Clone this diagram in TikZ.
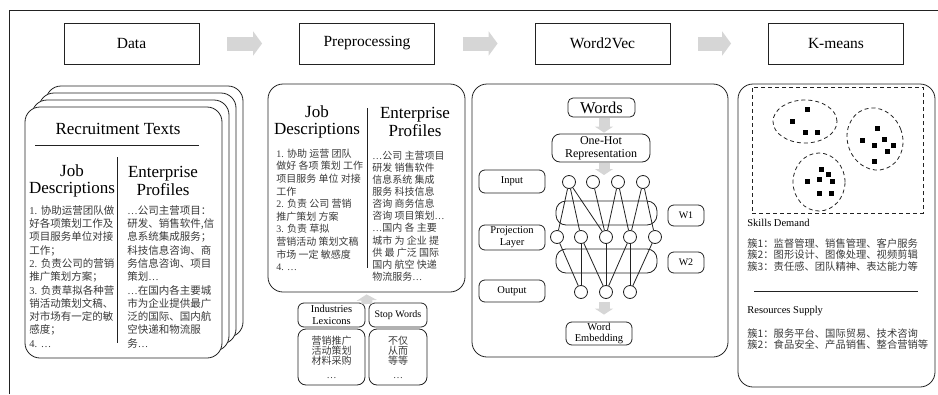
\documentclass[tikz,border=0pt]{standalone}
\usepackage{fontspec}
\setmainfont{Liberation Serif}
\newfontfamily\cjk{Noto Sans CJK SC}
\usetikzlibrary{arrows.meta,shapes.geometric}
\definecolor{agray}{HTML}{D6D6D6}
\definecolor{tgray}{HTML}{3A3A3A}
\definecolor{lgray}{HTML}{222222}
\newcommand\rl[1]{{\rmfamily #1}}
\begin{document}
\begin{tikzpicture}[x=1pt,y=-1pt,line width=0.8pt,
 hdr/.style={draw=lgray, minimum width=135pt, minimum height=41pt, inner sep=0pt, font=\fontsize{15.5}{18}\selectfont},
 harrow/.style={agray, line width=14pt, -{Triangle[width=24pt,length=9pt]}, shorten <=28pt, shorten >=37pt},
 varrow/.style={agray, line width=11pt, -{Triangle[width=18pt,length=6pt]}},
 page/.style={draw=lgray, fill=white, rounded corners=15pt, minimum width=197pt, minimum height=251pt, inner sep=0pt},
 panel/.style={draw=lgray, rounded corners=15pt, inner sep=0pt},
 ttl/.style={font=\fontsize{17}{17.5}\selectfont, align=center, inner sep=0pt},
 zh/.style={font=\cjk\fontsize{10.5}{13.3}\selectfont, text=tgray, align=left, anchor=north west, inner sep=0pt},
 rbox/.style={draw=lgray, rounded corners=6pt, inner sep=0pt, align=center},
 neuron/.style={circle, draw=lgray, fill=white, minimum size=13pt, inner sep=0pt},
 band/.style={draw=lgray, rounded corners=10pt, minimum width=101pt, minimum height=24pt, inner sep=0pt},
 dot/.style={fill=black, minimum size=5pt, inner sep=0pt},
 clus/.style={ellipse, draw=lgray, dash pattern=on 4pt off 3pt, inner sep=0pt},
 lab/.style={anchor=west, inner sep=0pt, font=\fontsize{10.5}{12}\selectfont},
]
\useasboundingbox (0,0) rectangle (938,394);
\draw[lgray] (9,394) -- (9,10) -- (938,10);

% headers
\node[hdr] (hdata) at (131.5,43.5) {Data};
\node[hdr] (hprep) at (367,43.5) {Preprocessing};
\node[hdr] (hw2v) at (602.5,43.5) {Word2Vec};
\node[hdr] (hkm) at (836,43.5) {K-means};
\draw[harrow] (hdata) -- (hprep);
\draw[harrow] (hprep) -- (hw2v);
\draw[harrow] (hw2v) -- (hkm);

% Data pages
\node[page] (pg3) at (144.5,211.5) {};
\node[page] (pg2) at (137.5,218.5) {};
\node[page] (pg1) at (130.5,225.5) {};
\node[page] (pg0) at (123.5,232.5) {};
\node[inner sep=0pt, font=\fontsize{17}{17}\selectfont] (rt) at (118,129) {Recruitment Texts};
\draw[lgray] (35,145) -- (199,145);
\draw[lgray] (117,157) -- (117,343);
\node[ttl] (jd1) at (72,181) {Job\\Descriptions};
\node[ttl] (ep1) at (163,181) {Enterprise\\Profiles};
\node[zh] (zl1) at (29,205) {\rl{1. }协助运营团队做\\好各项策划工作及\\项目服务单位对接\\工作；\\\rl{2. }负责公司的营销\\推广策划方案；\\\rl{3. }负责草拟各种营\\销活动策划文稿、\\对市场有一定的敏\\感度；\\\rl{4. …}};
\node[zh] (zr1) at (127,205) {\rl{…}公司主营项目：\\研发、销售软件,信\\息系统集成服务；\\科技信息咨询、商\\务信息咨询、项目\\策划\rl{…}\\\rl{…}在国内各主要城\\市为企业提供最广\\泛的国际、国内航\\空快递和物流服\\务\rl{…}};

% Preprocessing
\node[panel, minimum width=197pt, minimum height=208pt] (prep) at (366.5,188) {};
\node[ttl] (jd2) at (317,122) {Job\\Descriptions};
\node[ttl] (ep2) at (415,122) {Enterprise\\Profiles};
\draw[lgray] (367,108) -- (367,268);
\node[zh, font=\cjk\fontsize{10}{12.6}\selectfont] (zl2) at (276,148.5) {\rl{1. }协助 运营 团队\\做好 各项 策划 工作\\项目服务 单位 对接\\工作\\\rl{2. }负责 公司 营销\\推广策划 方案\\\rl{3. }负责 草拟\\营销活动 策划文稿\\市场 一定 敏感度\\\rl{4. …}};
\node[zh, font=\cjk\fontsize{10}{12.1}\selectfont] (zr2) at (372,150.5) {\rl{…}公司 主营项目\\研发 销售软件\\信息系统 集成\\服务 科技信息\\咨询 商务信息\\咨询 项目策划\rl{…}\\\rl{…}国内 各 主要\\城市 为 企业 提\\供 最 广泛 国际\\国内 航空 快递\\物流服务\rl{…}};

\node[rbox, minimum width=67pt, minimum height=24pt, font=\fontsize{10.5}{11.5}\selectfont] (lex) at (331.5,315) {Industries\\Lexicons};
\node[rbox, minimum width=58pt, minimum height=24pt, font=\fontsize{10}{11}\selectfont] (stop) at (398,315) {Stop Words};
\node[rbox, rounded corners=8pt, minimum width=67pt, minimum height=56pt] (lexc) at (331.5,357) {};
\node[rbox, rounded corners=8pt, minimum width=58pt, minimum height=56pt] (stopc) at (398,357) {};
\node[font=\cjk\fontsize{10}{10}\selectfont, text=tgray, align=center, inner sep=0pt] (lext) at (331.5,351) {营销推广\\活动策划\\材料采购};
\node[inner sep=0pt, text=tgray, font=\fontsize{10}{10}\selectfont] (lexd) at (331.5,378) {…};
\node[font=\cjk\fontsize{10}{10}\selectfont, text=tgray, align=center, inner sep=0pt] (stopt) at (398,351) {不仅\\从而\\等等};
\node[inner sep=0pt, text=tgray, font=\fontsize{10}{10}\selectfont] (stopd) at (398,378) {…};
\coordinate (lexup) at (367,304);
\draw[varrow, -{Triangle[width=20pt,length=6pt]}, shorten >=2pt] (lexup) -- (prep.south);

% Word2Vec
\node[panel, minimum width=256pt, minimum height=273pt] (w2v) at (600,220.5) {};
\node[rbox, rounded corners=5pt, minimum width=67pt, minimum height=19pt, font=\fontsize{16.5}{17}\selectfont] (words) at (601.5,107.5) {Words};
\node[rbox, rounded corners=8pt, minimum width=98pt, minimum height=28pt, font=\fontsize{12}{13}\selectfont] (onehot) at (601,148) {One-Hot\\Representation};
\node[rbox, minimum width=66pt, minimum height=23pt, font=\fontsize{10.5}{12}\selectfont] (inp) at (512,181.5) {Input};
\node[rbox, minimum width=66pt, minimum height=25pt, font=\fontsize{10.5}{12}\selectfont] (proj) at (512,237.5) {Projection\\Layer};
\node[rbox, minimum width=66pt, minimum height=22pt, font=\fontsize{10.5}{12}\selectfont] (outp) at (512,291) {Output};
\node[rbox, minimum width=36pt, minimum height=21pt, font=\fontsize{10}{11}\selectfont] (w1) at (686,215.5) {W1};
\node[rbox, minimum width=36pt, minimum height=21pt, font=\fontsize{10}{11}\selectfont] (w2) at (686,262.5) {W2};
\node[band] (b1) at (606.5,213) {};
\node[band] (b2) at (606.5,261) {};
\foreach \n/\x in {1/569,2/593,3/618,4/643} \node[neuron] (i\n) at (\x,182) {};
\foreach \n/\x in {1/557,2/581,3/606,4/630,5/655} \node[neuron] (p\n) at (\x,237) {};
\foreach \n/\x in {1/581,2/606,3/630} \node[neuron] (o\n) at (\x,292) {};
\foreach \a/\b in {i1/p1,i1/p2,i1/p3,i2/p3,i3/p3,i3/p4,i4/p4,i4/p5,p1/o1,p2/o1,p2/o2,p3/o2,p4/o2,p4/o3,p5/o3}
  \draw[lgray] (\a) -- (\b);
\node[rbox, minimum width=66pt, minimum height=23pt, font=\fontsize{10.5}{11.5}\selectfont] (emb) at (599,333.5) {Word\\Embedding};
\coordinate (intop) at (604,175);
\coordinate (outbot) at (604,302);
\draw[varrow, shorten <=1pt, shorten >=1pt] (words.south -| intop) -- (onehot.north -| intop);
\draw[varrow, shorten <=1pt] (onehot.south -| intop) -- (intop);
\draw[varrow, shorten >=7pt] (outbot) -- (emb.north -| outbot);

% K-means
\node[panel, minimum width=197pt, minimum height=303pt] (km) at (836.5,235.5) {};
\node[draw=lgray, dash pattern=on 4pt off 3pt, minimum width=171pt, minimum height=126pt, inner sep=0pt] (dbox) at (837.5,150) {};
\node[clus, minimum width=64pt, minimum height=43pt] (c1) at (805,121.5) {};
\node[clus, minimum width=55pt, minimum height=63pt, rotate=20] (c2) at (875,139) {};
\node[clus, minimum width=52pt, minimum height=58pt] (c3) at (819,182) {};
\foreach \p/\x/\y in {a1/807/109,a2/792/121,a3/805/132,a4/817/132,
  b1/877/128,b2/862/140,b3/884/139,b4/874/145,b5/893/145,b6/887/151,b7/874/161,
  d1/821/169,d2/828/174,d3/807/181,d4/819/179,d5/832/181,d6/819/193,d7/831/193}
  \node[dot] (\p) at (\x,\y) {};
\node[lab] (sd) at (747,223) {Skills Demand};
\node[zh, font=\cjk\fontsize{10.3}{11.3}\selectfont] (sdt) at (747,238.5) {簇1：监督管理、销售管理、客户服务\\簇2：图形设计、图像处理、视频剪辑\\簇3：责任感、团队精神、表达能力等};
\draw[lgray] (754,291) -- (918,291);
\node[lab] (rs) at (747,311) {Resources Supply};
\node[zh, font=\cjk\fontsize{10.3}{11.3}\selectfont] (rst) at (747,328.5) {簇1：服务平台、国际贸易、技术咨询\\簇2：食品安全、产品销售、整合营销等};
\end{tikzpicture}
\end{document}
